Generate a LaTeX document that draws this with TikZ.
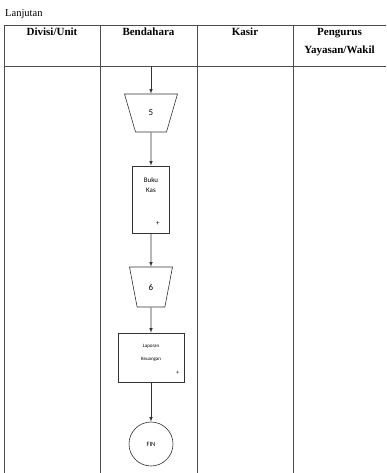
\documentclass[tikz,border=0pt]{standalone}
\usepackage{fontspec}
\setmainfont{Liberation Serif}
\newfontfamily\boxfont{Carlito}
\usetikzlibrary{shapes.geometric,positioning}

\begin{document}
\begin{tikzpicture}[x=1pt,y=1pt,>=latex]
\tikzstyle{every node}+=[inner sep=0pt]
\tikzstyle{lane}=[draw=black!70,line width=0.9pt]
\tikzstyle{head}=[font=\fontsize{11}{18}\selectfont\bfseries,anchor=north,align=center]
\tikzstyle{offpage}=[draw=black!80,line width=0.6pt,trapezium,shape border rotate=180,trapezium stretches=true,font=\boxfont\fontsize{9}{10}\selectfont]
\tikzstyle{doc}=[draw=black!80,line width=0.6pt,rectangle]
\tikzstyle{flow}=[->,draw=black!80,line width=0.6pt]
\useasboundingbox (0,0) rectangle (386,-473);
\fill[white] (0,0) rectangle (386,-473);
\node[anchor=west,font=\fontsize{10.5}{12}\selectfont] (lanjutan) at (5,-14) {Lanjutan};
\draw[lane] (386,-25) -- (4,-25) -- (4,-473);
\draw[lane] (4,-66) -- (386,-66);
\foreach \x in {100,197,293} \draw[lane] (\x,-25) -- (\x,-473);
\node[head] (divisi) at (52,-28) {Divisi/Unit};
\node[head] (bendahara) at (148.5,-28) {Bendahara};
\node[head] (kasir) at (245,-28) {Kasir};
\node[head] (pengurus) at (339.5,-28) {Pengurus\\Yayasan/Wakil};
\coordinate (start) at (151,-66);
\node[offpage,minimum width=53,minimum height=38,trapezium angle=74.5] (p5) at (151,-113) {5};
\node[doc,minimum width=37,minimum height=67] (kas) at (151,-199.5) {};
\node[below=12pt of kas.north,align=center,font=\boxfont\fontsize{7}{10}\selectfont] (kastext) {Buku\\Kas};
\node[above left=8pt and 10pt of kas.south east,font=\boxfont\fontsize{7}{8}\selectfont] (kasplus) {+};
\node[offpage,minimum width=43,minimum height=40,trapezium angle=78.5] (p6) at (151,-287) {6};
\node[doc,minimum width=66,minimum height=49] (lap) at (151,-357.5) {};
\node[below=11pt of lap.north,align=center,font=\boxfont\fontsize{5}{13}\selectfont] (laptext) {Laporan\\Keuangan};
\node[above left=8pt and 5pt of lap.south east,font=\boxfont\fontsize{6}{7}\selectfont] (lapplus) {+};
\node[draw=black!80,line width=0.6pt,circle,minimum size=44,font=\boxfont\fontsize{6.5}{8}\selectfont] (fin) at (151,-444) {FIN};
\draw[flow] (start) -- (p5);
\draw[flow] (p5) -- (kas);
\draw[flow] (kas) -- (p6);
\draw[flow] (p6) -- (lap);
\draw[flow] (lap) -- (fin);
\end{tikzpicture}
\end{document}
